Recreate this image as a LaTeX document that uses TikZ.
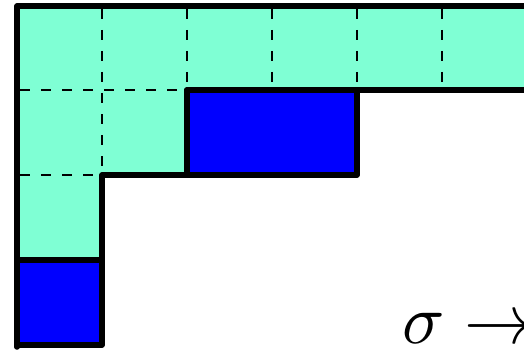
\documentclass[tikz,border=0pt]{standalone}
\definecolor{aqua}{HTML}{7FFFD4}
\definecolor{deepblue}{HTML}{0000FF}
\tikzset{
  thickline/.style={line width=5.5pt, line join=round, line cap=round},
  gridline/.style={line width=2.8pt, dash pattern=on 10pt off 11pt, dash phase=-3pt},
  cellfill/.style={fill=aqua},
  bluefill/.style={fill=deepblue}
}
\begin{document}
\begin{tikzpicture}[x=1pt,y=-1pt]
\useasboundingbox (0,0) rectangle (524,350);
\clip (0,0) rectangle (524,350);
% teal region
\fill[cellfill] (17,6) -- (540,6) -- (540,90) -- (187,90) -- (187,175) -- (102,175) -- (102,260) -- (17,260) -- cycle;
% blue cells
\fill[bluefill] (187,90) rectangle (357,175);
\fill[bluefill] (17,260) rectangle (102,345);
% dashed grid
\draw[gridline] (17,90) -- (187,90);
\draw[gridline] (17,175) -- (102,175);
\draw[gridline] (102,6) -- (102,175);
\draw[gridline] (187,6) -- (187,90);
\draw[gridline] (272,6) -- (272,90);
\draw[gridline] (357,6) -- (357,90);
\draw[gridline] (442,6) -- (442,90);
% thick outlines
\draw[thickline] (540,6) -- (17,6) -- (17,347);
\draw[thickline] (17,260) -- (102,260);
\draw[thickline] (17,345) -- (102,345) -- (102,175) -- (187,175) -- (187,90);
\draw[thickline] (187,90) rectangle (357,175);
\draw[thickline] (357,90) -- (540,90);
% label
\node[anchor=base west, inner sep=0pt, scale=7] (lbl) at (401,343) {$\sigma\rightarrow$};
\end{tikzpicture}
\end{document}
